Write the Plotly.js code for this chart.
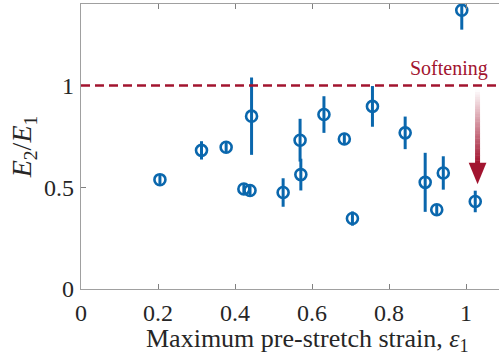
<!DOCTYPE html>
<html>
<head>
<meta charset="utf-8">
<script src="https://cdn.plot.ly/plotly-3.0.1.min.js"></script>
<style>html,body{margin:0;padding:0;background:#fff;}#chart{width:499px;height:360px;}</style>
</head>
<body>
<div id="chart"></div>
<script>
// Data
const strain = [0.205, 0.313, 0.377, 0.423, 0.439, 0.443, 0.525, 0.569, 0.571, 0.631, 0.684, 0.705, 0.757, 0.842, 0.894, 0.924, 0.941, 0.989, 1.024];
const ratio  = [0.537, 0.681, 0.696, 0.491, 0.484, 0.849, 0.474, 0.731, 0.562, 0.857, 0.737, 0.346, 0.897, 0.767, 0.524, 0.389, 0.570, 1.369, 0.430];
const ratioErr = [0.025, 0.045, 0.025, 0.025, 0.025, 0.19, 0.07, 0.105, 0.078, 0.09, 0.03, 0.035, 0.10, 0.08, 0.145, 0.025, 0.082, 0.095, 0.053];
const xTicks = [0, 0.2, 0.4, 0.6, 0.8, 1];
const xTickText = ['0', '0.2', '0.4', '0.6', '0.8', '1'];
const yTicks = [0, 0.5, 1];
const yTickText = ['0', '0.5', '1'];
const softeningLevel = 1;
const softeningLabel = 'Softening';
const xTitle = 'Maximum pre-stretch strain, <i>ε</i><sub>1</sub>';
const yTitle = '<i>E</i><sub>2</sub>/<i>E</i><sub>1</sub>';

const blue = '#0a67ad';
const red = '#a2142f';
const serif = '"Liberation Serif", "Times New Roman", serif';

// gradient arrow (annotation geometry)
const arrowX = 1.03, arrowTop = 0.98, arrowHeadBase = 0.62, arrowTip = 0.515, headHalfW = 0.023;
const shapes = [{
  type: 'line', xref: 'paper', x0: 0, x1: 1, yref: 'y', y0: softeningLevel, y1: softeningLevel,
  line: {color: red, width: 2.5, dash: '9px,5px'}
}];
const N = 30;
for (let i = 0; i < N; i++) {
  const t0 = i / N, t1 = (i + 1) / N;
  const a = (t0 + t1) / 2;
  const r = Math.round(255 + (162 - 255) * a), g = Math.round(255 + (20 - 255) * a), b = Math.round(255 + (47 - 255) * a);
  shapes.push({
    type: 'line', xref: 'x', yref: 'y', x0: arrowX, x1: arrowX,
    y0: arrowTop + (arrowHeadBase - arrowTop) * t0,
    y1: arrowTop + (arrowHeadBase - arrowTop) * t1 - 0.002,
    line: {color: `rgb(${r},${g},${b})`, width: 5}
  });
}
shapes.push({
  type: 'path', xref: 'x', yref: 'y',
  path: `M ${arrowX - headHalfW} ${arrowHeadBase} L ${arrowX + headHalfW} ${arrowHeadBase} L ${arrowX} ${arrowTip} Z`,
  fillcolor: red, line: {width: 0}
});

const trace = {
  type: 'scatter', mode: 'markers', x: strain, y: ratio,
  error_y: {type: 'data', array: ratioErr, visible: true, color: blue, thickness: 3, width: 0},
  marker: {symbol: 'circle-open', size: 11, color: blue, line: {width: 2.6, color: blue}},
  hoverinfo: 'x+y'
};

const layout = {
  width: 499, height: 360,
  margin: {l: 81, r: 0, t: 4, b: 71},
  paper_bgcolor: '#fff', plot_bgcolor: '#fff',
  showlegend: false,
  font: {family: serif, color: '#262626'},
  xaxis: {
    range: [0, 1.0857], tickvals: xTicks, ticktext: xTickText,
    ticks: 'inside', ticklen: 5, tickcolor: '#808080', tickwidth: 1,
    showline: true, linecolor: '#a0a0a0', linewidth: 1.2, mirror: 'ticks',
    showgrid: false, zeroline: false, ticklabelstandoff: 2,
    tickfont: {family: serif, size: 24, color: '#262626'}
  },
  yaxis: {
    range: [0, 1.4], tickvals: yTicks, ticktext: yTickText,
    ticks: 'inside', ticklen: 5, tickcolor: '#808080', tickwidth: 1,
    showline: true, linecolor: '#a0a0a0', linewidth: 1.2, mirror: false,
    showgrid: false, zeroline: false, ticklabelstandoff: 1,
    tickfont: {family: serif, size: 24, color: '#262626'},
    title: {text: yTitle, font: {family: serif, size: 28, color: '#262626'}, standoff: 4}
  },
  shapes: shapes,
  annotations: [{
    x: 0.955, y: softeningLevel, xref: 'x', yref: 'y', text: softeningLabel, showarrow: false,
    yanchor: 'bottom', yshift: 3, font: {family: serif, size: 20, color: red}
  }, {
    x: 0.543, y: 0, xref: 'paper', yref: 'paper', text: xTitle, showarrow: false,
    xanchor: 'center', yanchor: 'middle', yshift: -51,
    font: {family: serif, size: 26, color: '#262626'}
  }]
};

Plotly.newPlot('chart', [trace], layout, {displayModeBar: false, staticPlot: true});
</script>
</body>
</html>
